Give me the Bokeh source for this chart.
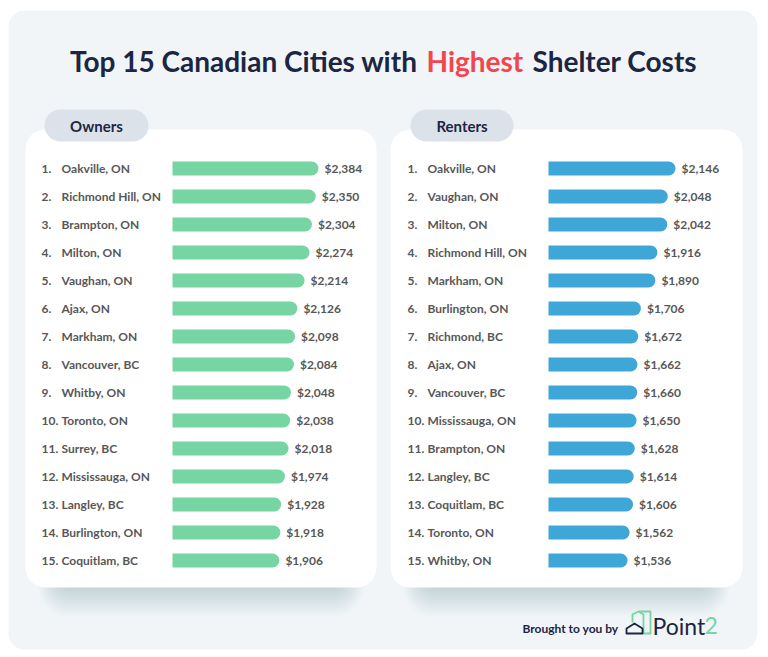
from bokeh.plotting import figure
from bokeh.models import Range1d, ColumnDataSource
from bokeh.core.properties import value
from bokeh.embed import file_html
from bokeh.resources import INLINE

# ---------------- data ----------------
ranks = list(range(1, 16))
owner_cities = ["Oakville, ON", "Richmond Hill, ON", "Brampton, ON", "Milton, ON",
                "Vaughan, ON", "Ajax, ON", "Markham, ON", "Vancouver, BC",
                "Whitby, ON", "Toronto, ON", "Surrey, BC", "Mississauga, ON",
                "Langley, BC", "Burlington, ON", "Coquitlam, BC"]
owner_values = [2384, 2350, 2304, 2274, 2214, 2126, 2098, 2084, 2048, 2038,
                2018, 1974, 1928, 1918, 1906]
renter_cities = ["Oakville, ON", "Vaughan, ON", "Milton, ON", "Richmond Hill, ON",
                 "Markham, ON", "Burlington, ON", "Richmond, BC", "Ajax, ON",
                 "Vancouver, BC", "Mississauga, ON", "Brampton, ON", "Langley, BC",
                 "Coquitlam, BC", "Toronto, ON", "Whitby, ON"]
renter_values = [2146, 2048, 2042, 1916, 1890, 1706, 1672, 1662, 1660, 1650,
                 1628, 1614, 1606, 1562, 1536]

W, H = 768, 657
FONT = value("Lato")
NAVY = "#1c2642"
GRAY_TXT = "#575757"
GREEN = "#77d4a3"
BLUE = "#3fa7d8"
BG = "#f2f5f8"
TAB = "#dce2e9"

p = figure(width=W, height=H, output_backend="svg", toolbar_location=None,
           x_range=Range1d(0, W), y_range=Range1d(H, 0),
           x_axis_type=None, y_axis_type=None, min_border=0,
           background_fill_color="white", border_fill_color="white",
           outline_line_color=None)
p.grid.visible = False

# rank scale: row r centred at 140 + 28 r (px from top)
p.extra_y_ranges = {"rank": Range1d(start=(H - 140) / 28, end=-140 / 28)}


def value_range(base, base_px, top_value, top_px):
    k = (top_px - base_px) / (top_value - base)
    start = base - base_px / k
    return Range1d(start=start, end=start + W / k)


OWN_BASE, REN_BASE = 600, 530
p.extra_x_ranges = {
    "own": value_range(OWN_BASE, 172, owner_values[0], 318),
    "ren": value_range(REN_BASE, 548, renter_values[0], 675),
}

# ---------------- decoration ----------------
p.quad(left=8, right=757, top=10, bottom=649, fill_color=BG, line_color=None,
       border_radius=16)

for cx0, cx1 in [(25, 376), (390, 742)]:
    # soft blurred shadow
    for k in range(16):
        p.quad(left=cx0 + 32 - k * 1.3, right=cx1 - 32 + k * 1.3, top=550,
               bottom=589 + k * 1.8, fill_color="#8d969f",
               fill_alpha=0.022, line_color=None, border_radius=14 + k)
    p.quad(left=cx0, right=cx1, top=129, bottom=587, fill_color="white",
           line_color=None, border_radius=20)

for tx0, tx1, label in [(44, 148, "Owners"), (410, 513, "Renters")]:
    p.quad(left=tx0, right=tx1, top=109, bottom=141, fill_color=TAB,
           line_color=None, border_radius=16)
    p.text(x=[(tx0 + tx1) / 2], y=[125.5], text=[label], text_font=FONT,
           text_font_size="15px", text_font_style="bold", text_color=NAVY,
           text_align="center", text_baseline="middle")

# title
TY = 60
p.text(x=[417], y=[TY], text=["Top 15 Canadian Cities with"], text_font=FONT,
       text_font_size="28px", text_font_style="bold", text_color=NAVY,
       text_align="right", text_baseline="middle")
p.text(x=[426], y=[TY], text=["Highest"], text_font=FONT,
       text_font_size="28px", text_font_style="bold", text_color="#f2464d",
       text_align="left", text_baseline="middle")
p.text(x=[532], y=[TY], text=["Shelter Costs"], text_font=FONT,
       text_font_size="28px", text_font_style="bold", text_color=NAVY,
       text_align="left", text_baseline="middle")

# ---------------- bars ----------------
panels = [
    ("own", owner_cities, owner_values, OWN_BASE, GREEN, 41, 61),
    ("ren", renter_cities, renter_values, REN_BASE, BLUE, 407, 427),
]
LBL = dict(text_font=FONT, text_font_size="12px", text_font_style="bold",
           text_color=GRAY_TXT, text_align="left", text_baseline="middle")
for rname, cities, vals, base, color, rank_x, name_x in panels:
    src = ColumnDataSource(dict(
        rank=ranks, value=vals, city=cities,
        rank_lbl=[f"{r}." for r in ranks],
        val_lbl=[f"${v:,}" for v in vals],
        base=[base] * len(vals),
        rank_x=[rank_x] * len(vals), name_x=[name_x] * len(vals)))
    p.hbar(y="rank", left="base", right="value", height=0.5, source=src,
           fill_color=color, line_color=None, border_radius=(0, 7, 7, 0),
           x_range_name=rname, y_range_name="rank")
    p.text(x="value", y="rank", text="val_lbl", source=src, x_offset=6,
           x_range_name=rname, y_range_name="rank", **LBL)
    p.text(x="rank_x", y="rank", text="rank_lbl", source=src,
           y_range_name="rank", **LBL)
    p.text(x="name_x", y="rank", text="city", source=src,
           y_range_name="rank", **LBL)

# ---------------- footer ----------------
p.text(x=[618], y=[628], text=["Brought to you by"], text_font=FONT,
       text_font_size="12px", text_font_style="bold", text_color=NAVY,
       text_align="right", text_baseline="middle")
# logo: green building outline + dark house
p.multi_line(xs=[[632, 632, 638, 650, 650, 643, 643, 638]],
             ys=[[622, 614, 611, 611, 633, 633, 614, 611]],
             line_color=GREEN, line_width=1.8, line_join="round")
p.patch(x=[626, 626, 634, 642, 642], y=[633, 628, 623, 628, 633],
        fill_color=None, line_color=NAVY, line_width=1.8, line_join="round")
p.text(x=[652], y=[625], text=["Point"], text_font=FONT,
       text_font_size="23px", text_color=NAVY, text_align="left",
       text_baseline="middle")
p.text(x=[704], y=[625], text=["2"], text_font=FONT,
       text_font_size="23px", text_color=GREEN, text_align="left",
       text_baseline="middle")

open("out.html", "w").write(file_html(p, INLINE))
